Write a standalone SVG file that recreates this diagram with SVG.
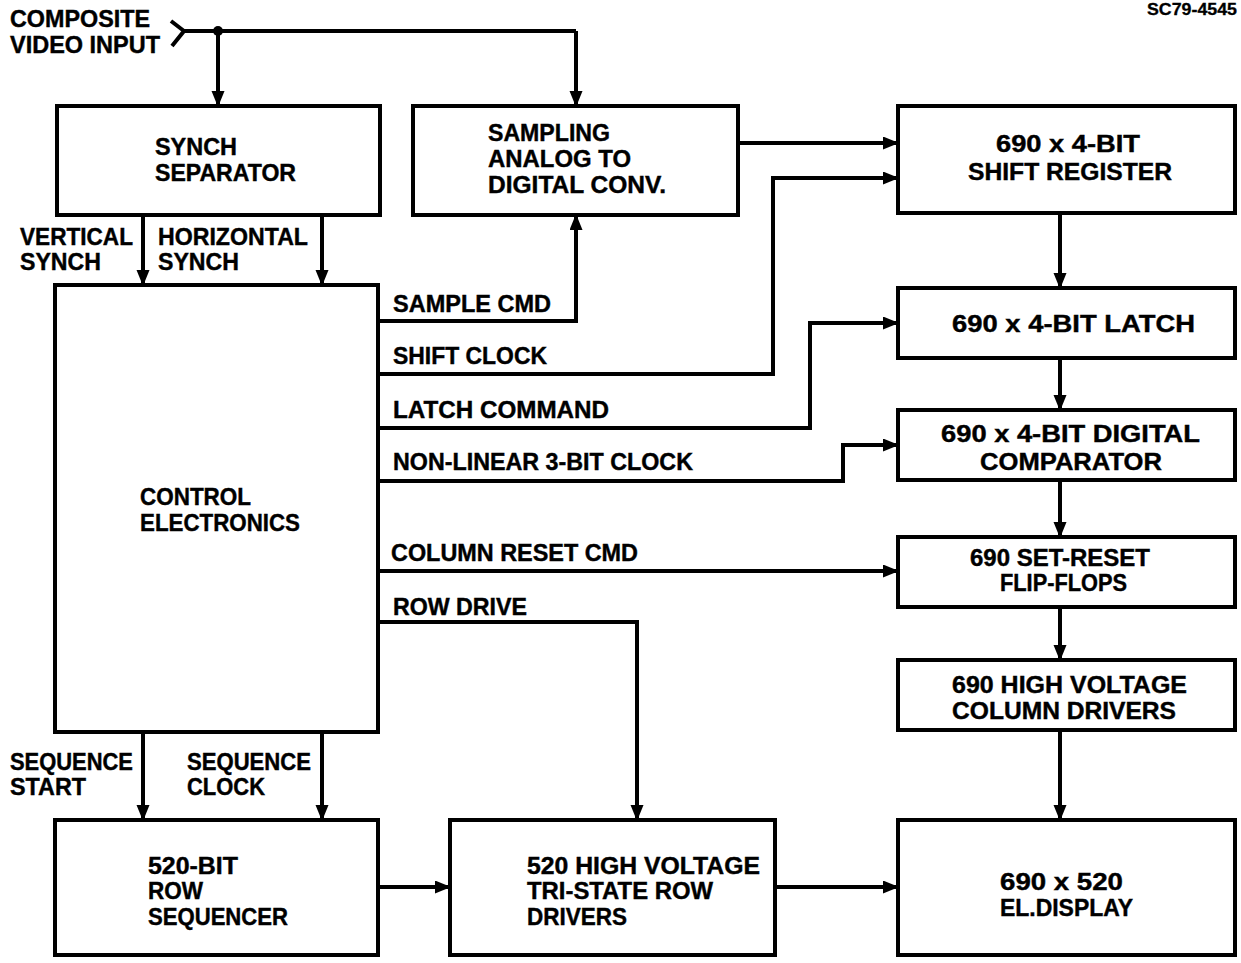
<svg xmlns="http://www.w3.org/2000/svg" width="1241" height="963" viewBox="0 0 1241 963">
<style>
.box{fill:#fff;stroke:#000;stroke-width:4}
.w{fill:none;stroke:#000;stroke-width:4;stroke-linejoin:miter}
.t{font-family:"Liberation Sans",Arial,sans-serif;font-weight:bold;font-size:23px;fill:#000;stroke:#000;stroke-width:0.4}
.s{font-size:17px;stroke-width:0.3}
</style>
<defs>
<marker id="ah" markerUnits="userSpaceOnUse" markerWidth="16" markerHeight="14" refX="15" refY="6.5" orient="auto">
<path d="M0,0 L16,6.5 L0,13 z" fill="#000"/>
</marker>
</defs>
<rect width="1241" height="963" fill="#fff"/>
<text class="t s" x="1147" y="15" textLength="90" lengthAdjust="spacingAndGlyphs">SC79-4545</text>

<g id="connectors">
<polyline class="w" points="171,21 184,31 172,46"/>
<line class="w" x1="184" y1="31" x2="576" y2="31"/>
<circle cx="218" cy="31" r="5" fill="#000"/>
<line class="w" x1="218" y1="31" x2="218" y2="106" marker-end="url(#ah)"/>
<polyline class="w" points="576,31 576,106" marker-end="url(#ah)"/>
<line class="w" x1="143" y1="215" x2="143" y2="285" marker-end="url(#ah)"/>
<line class="w" x1="322" y1="215" x2="322" y2="285" marker-end="url(#ah)"/>
<line class="w" x1="738" y1="143" x2="898" y2="143" marker-end="url(#ah)"/>
<polyline class="w" points="378,321 576,321 576,215" marker-end="url(#ah)"/>
<polyline class="w" points="378,374 773,374 773,178 898,178" marker-end="url(#ah)"/>
<polyline class="w" points="378,428 810,428 810,323 898,323" marker-end="url(#ah)"/>
<polyline class="w" points="378,481 843,481 843,445 898,445" marker-end="url(#ah)"/>
<line class="w" x1="378" y1="571" x2="898" y2="571" marker-end="url(#ah)"/>
<polyline class="w" points="378,622 637,622 637,820" marker-end="url(#ah)"/>
<line class="w" x1="1060" y1="213" x2="1060" y2="288" marker-end="url(#ah)"/>
<line class="w" x1="1060" y1="358" x2="1060" y2="410" marker-end="url(#ah)"/>
<line class="w" x1="1060" y1="480" x2="1060" y2="537" marker-end="url(#ah)"/>
<line class="w" x1="1060" y1="607" x2="1060" y2="660" marker-end="url(#ah)"/>
<line class="w" x1="1060" y1="730" x2="1060" y2="820" marker-end="url(#ah)"/>
<line class="w" x1="143" y1="732" x2="143" y2="820" marker-end="url(#ah)"/>
<line class="w" x1="322" y1="732" x2="322" y2="820" marker-end="url(#ah)"/>
<line class="w" x1="378" y1="887" x2="450" y2="887" marker-end="url(#ah)"/>
<line class="w" x1="775" y1="887" x2="898" y2="887" marker-end="url(#ah)"/>
</g>

<g id="labels">
<text class="t" x="10" y="27" textLength="140" lengthAdjust="spacingAndGlyphs">COMPOSITE</text>
<text class="t" x="10" y="53" textLength="150" lengthAdjust="spacingAndGlyphs">VIDEO INPUT</text>
<text class="t" x="20" y="245" textLength="113" lengthAdjust="spacingAndGlyphs">VERTICAL</text>
<text class="t" x="20" y="270" textLength="81" lengthAdjust="spacingAndGlyphs">SYNCH</text>
<text class="t" x="158" y="245" textLength="150" lengthAdjust="spacingAndGlyphs">HORIZONTAL</text>
<text class="t" x="158" y="270" textLength="81" lengthAdjust="spacingAndGlyphs">SYNCH</text>
<text class="t" x="393" y="312" textLength="158" lengthAdjust="spacingAndGlyphs">SAMPLE CMD</text>
<text class="t" x="393" y="364" textLength="154" lengthAdjust="spacingAndGlyphs">SHIFT CLOCK</text>
<text class="t" x="393" y="418" textLength="216" lengthAdjust="spacingAndGlyphs">LATCH COMMAND</text>
<text class="t" x="393" y="470" textLength="300" lengthAdjust="spacingAndGlyphs">NON-LINEAR 3-BIT CLOCK</text>
<text class="t" x="391" y="561" textLength="247" lengthAdjust="spacingAndGlyphs">COLUMN RESET CMD</text>
<text class="t" x="393" y="615" textLength="134" lengthAdjust="spacingAndGlyphs">ROW DRIVE</text>
<text class="t" x="10" y="770" textLength="123" lengthAdjust="spacingAndGlyphs">SEQUENCE</text>
<text class="t" x="10" y="795" textLength="76" lengthAdjust="spacingAndGlyphs">START</text>
<text class="t" x="187" y="770" textLength="124" lengthAdjust="spacingAndGlyphs">SEQUENCE</text>
<text class="t" x="187" y="795" textLength="78" lengthAdjust="spacingAndGlyphs">CLOCK</text>
</g>

<g id="synch-separator">
<rect class="box" x="57" y="106" width="323" height="109"/>
<text class="t" x="155" y="155" textLength="82" lengthAdjust="spacingAndGlyphs">SYNCH</text>
<text class="t" x="155" y="181" textLength="141" lengthAdjust="spacingAndGlyphs">SEPARATOR</text>
</g>
<g id="adc">
<rect class="box" x="413" y="106" width="325" height="109"/>
<text class="t" x="488" y="141" textLength="122" lengthAdjust="spacingAndGlyphs">SAMPLING</text>
<text class="t" x="488" y="167" textLength="143" lengthAdjust="spacingAndGlyphs">ANALOG TO</text>
<text class="t" x="488" y="193" textLength="178" lengthAdjust="spacingAndGlyphs">DIGITAL CONV.</text>
</g>
<g id="shift-register">
<rect class="box" x="898" y="106" width="337" height="107"/>
<text class="t" x="996" y="152" textLength="144" lengthAdjust="spacingAndGlyphs">690 x 4-BIT</text>
<text class="t" x="968" y="180" textLength="204" lengthAdjust="spacingAndGlyphs">SHIFT REGISTER</text>
</g>
<g id="latch">
<rect class="box" x="898" y="288" width="337" height="70"/>
<text class="t" x="952" y="332" textLength="243" lengthAdjust="spacingAndGlyphs">690 x 4-BIT LATCH</text>
</g>
<g id="comparator">
<rect class="box" x="898" y="410" width="337" height="70"/>
<text class="t" x="941" y="442" textLength="259" lengthAdjust="spacingAndGlyphs">690 x 4-BIT DIGITAL</text>
<text class="t" x="980" y="470" textLength="182" lengthAdjust="spacingAndGlyphs">COMPARATOR</text>
</g>
<g id="flip-flops">
<rect class="box" x="898" y="537" width="337" height="70"/>
<text class="t" x="970" y="566" textLength="180" lengthAdjust="spacingAndGlyphs">690 SET-RESET</text>
<text class="t" x="1000" y="591" textLength="127" lengthAdjust="spacingAndGlyphs">FLIP-FLOPS</text>
</g>
<g id="column-drivers">
<rect class="box" x="898" y="660" width="337" height="70"/>
<text class="t" x="952" y="693" textLength="235" lengthAdjust="spacingAndGlyphs">690 HIGH VOLTAGE</text>
<text class="t" x="952" y="719" textLength="224" lengthAdjust="spacingAndGlyphs">COLUMN DRIVERS</text>
</g>
<g id="control-electronics">
<rect class="box" x="55" y="285" width="323" height="447"/>
<text class="t" x="140" y="505" textLength="111" lengthAdjust="spacingAndGlyphs">CONTROL</text>
<text class="t" x="140" y="531" textLength="160" lengthAdjust="spacingAndGlyphs">ELECTRONICS</text>
</g>
<g id="row-sequencer">
<rect class="box" x="55" y="820" width="323" height="135"/>
<text class="t" x="148" y="874" textLength="90" lengthAdjust="spacingAndGlyphs">520-BIT</text>
<text class="t" x="148" y="899" textLength="55" lengthAdjust="spacingAndGlyphs">ROW</text>
<text class="t" x="148" y="925" textLength="140" lengthAdjust="spacingAndGlyphs">SEQUENCER</text>
</g>
<g id="row-drivers">
<rect class="box" x="450" y="820" width="325" height="135"/>
<text class="t" x="527" y="874" textLength="233" lengthAdjust="spacingAndGlyphs">520 HIGH VOLTAGE</text>
<text class="t" x="527" y="899" textLength="186" lengthAdjust="spacingAndGlyphs">TRI-STATE ROW</text>
<text class="t" x="527" y="925" textLength="100" lengthAdjust="spacingAndGlyphs">DRIVERS</text>
</g>
<g id="el-display">
<rect class="box" x="898" y="820" width="337" height="135"/>
<text class="t" x="1000" y="890" textLength="123" lengthAdjust="spacingAndGlyphs">690 x 520</text>
<text class="t" x="1000" y="916" textLength="133" lengthAdjust="spacingAndGlyphs">EL.DISPLAY</text>
</g>
</svg>
